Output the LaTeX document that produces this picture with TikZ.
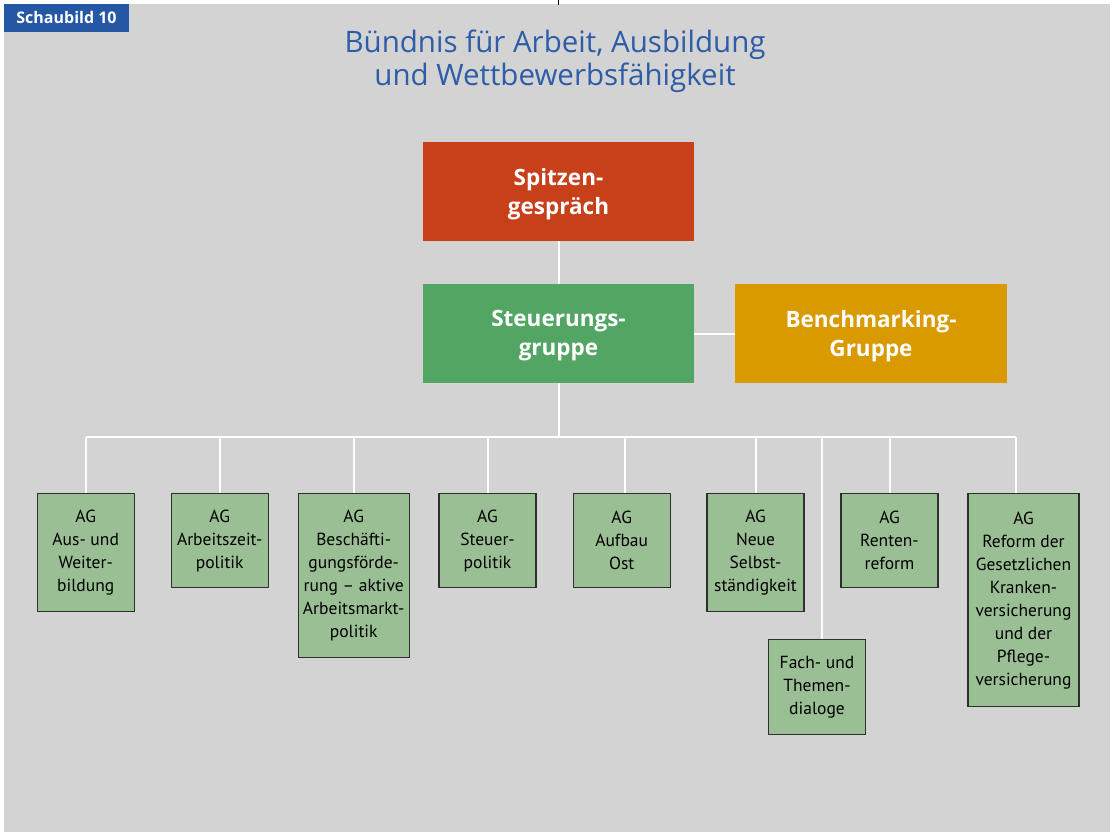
\documentclass[tikz,border=0pt]{standalone}
\usepackage{fontspec}
\setmainfont{PT Sans}
\newfontfamily\headfont{Open Sans}
\definecolor{bggray}{HTML}{D3D3D3}
\definecolor{labelblue}{HTML}{2457A4}
\definecolor{titleblue}{HTML}{2D5CA8}
\definecolor{topred}{HTML}{C8401A}
\definecolor{midgreen}{HTML}{52A563}
\definecolor{benchorange}{HTML}{D99A00}
\definecolor{agfill}{HTML}{9BBF94}
\definecolor{agborder}{HTML}{2F2F2F}
\tikzset{
  bigbox/.style={draw=none, minimum width=271, minimum height=99, inner sep=0pt},
  bigtext/.style={text=white, inner sep=0pt, align=center,
    font=\headfont\fontsize{22.5}{29}\selectfont\bfseries},
  agbox/.style={draw=agborder, fill=agfill, line width=1.3pt, anchor=north, inner sep=0pt,
    minimum width=97, align=center, font=\fontsize{17.5}{23}\selectfont},
  wide/.style={minimum width=111},
  conn/.style={draw=white, line width=2pt}
}
\begin{document}
\begin{tikzpicture}[x=1pt,y=-1pt]
\useasboundingbox (0,0) rectangle (1112,832);
\fill[white] (0,0) rectangle (1112,832);
\fill[bggray] (4,4) rectangle (1110,832);
\draw[black, line width=0.8pt] (558,0) -- (558,5);
% label
\node[fill=labelblue, text=white, minimum width=125, minimum height=28, inner sep=0pt,
  font=\headfont\fontsize{16}{18}\selectfont\bfseries] (label) at (66.5,18) {Schaubild 10};
% title
\node[text=titleblue, align=center, font=\headfont\fontsize{29.5}{33}\selectfont, inner sep=0pt] (title) at (555,61.5)
  {Bündnis für Arbeit, Ausbildung\\und Wettbewerbsfähigkeit};
% main boxes
\node[bigbox, fill=topred] (spitze) at (558.5,191.5) {};
\node[bigtext] (spitzetext) at ([yshift=-2.5]spitze.center) {Spitzen-\\gespräch};
\node[bigbox, fill=midgreen] (steuer) at (558.5,333.5) {};
\node[bigtext] (steuertext) at ([yshift=-2.5]steuer.center) {Steuerungs-\\gruppe};
\node[bigbox, fill=benchorange, minimum width=272] (bench) at (871,333.5) {};
\node[bigtext] (benchtext) at ([yshift=-2.5]bench.center) {Benchmarking-\\Gruppe};
% AG boxes
\node[agbox, minimum height=118] (a1) at (85.7,493) {AG\\Aus- und\\Weiter-\\bildung};
\node[agbox, minimum height=94] (a2) at (219.7,493) {AG\\Arbeitszeit-\\politik};
\node[agbox, wide, minimum height=164] (a3) at (353.7,493) {AG\\Beschäfti-\\gungsförde-\\rung -- aktive\\Arbeitsmarkt-\\politik};
\node[agbox, minimum height=94] (a4) at (487.5,493) {AG\\Steuer-\\politik};
\node[agbox, minimum height=94] (a5) at (621.7,493) {AG\\Aufbau\\Ost};
\node[agbox, minimum height=118] (a6) at (755.5,493) {AG\\Neue\\Selbst-\\ständigkeit};
\node[agbox, minimum height=95] (fach) at (817,639) {Fach- und\\Themen-\\dialoge};
\node[agbox, minimum height=94] (a8) at (889.5,493) {AG\\Renten-\\reform};
\node[agbox, wide, minimum height=213] (a9) at (1023.5,493) {AG\\Reform der\\Gesetzlichen\\Kranken-\\versicherung\\und der\\Pflege-\\versicherung};
% connectors
\coordinate (bus) at (558.5,437);
\coordinate (fachtop) at ([xshift=5]fach.north);
\coordinate (a9top) at ([xshift=-7.5]a9.north);
\coordinate (a5top) at ([xshift=3]a5.north);
\draw[conn] (spitze.south) -- (steuer.north);
\draw[conn] (steuer.east) -- (bench.west);
\draw[conn] (steuer.south) -- (bus);
\draw[conn] (bus -| a1.north) -- (bus -| a9top);
\foreach \n in {a1.north,a2.north,a3.north,a4.north,a5top,a6.north,fachtop,a8.north,a9top}
  \draw[conn] (bus -| \n) -- (\n);
\end{tikzpicture}
\end{document}
